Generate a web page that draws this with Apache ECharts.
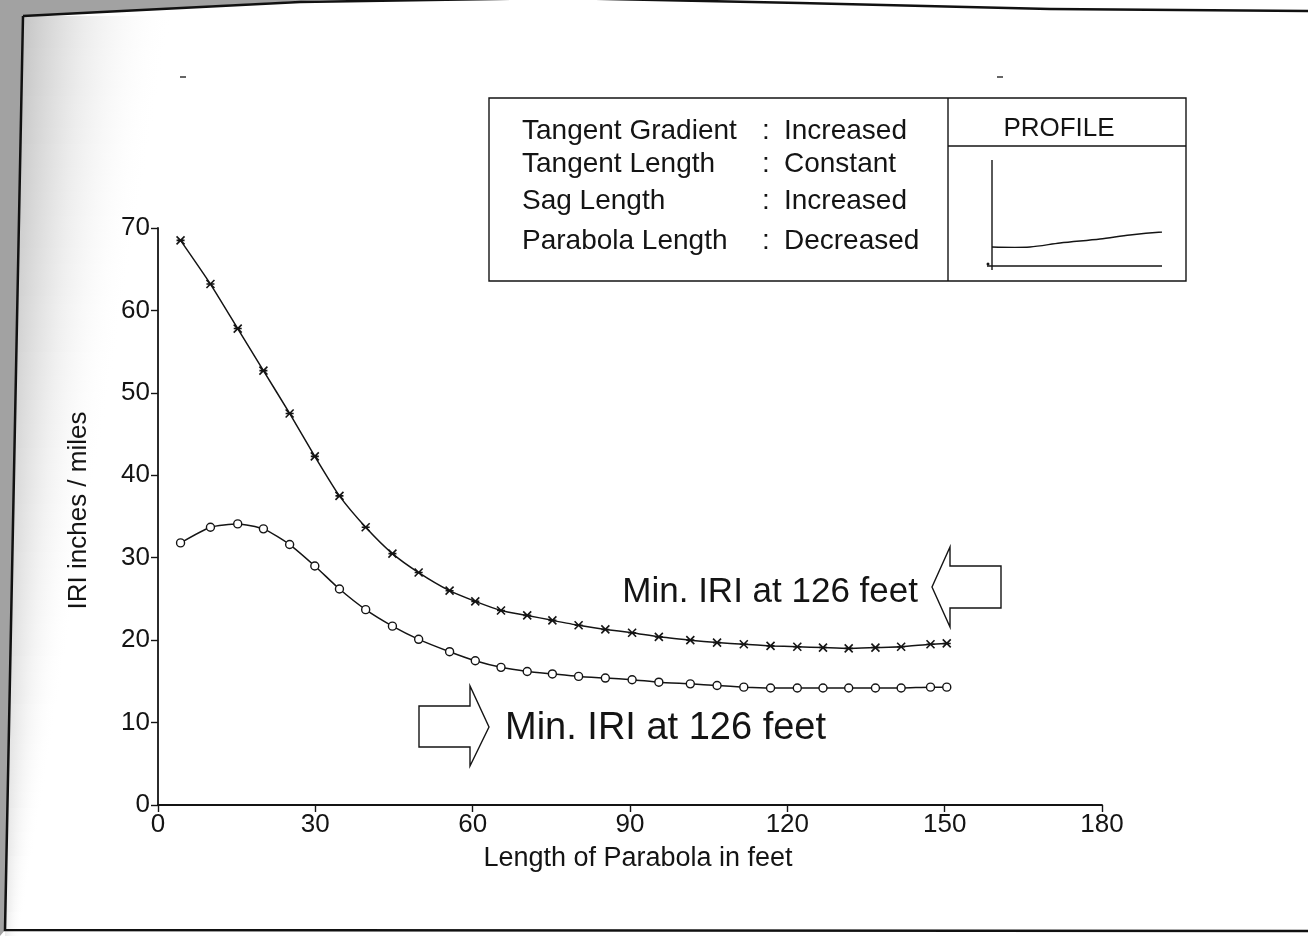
<!DOCTYPE html>
<html>
<head>
<meta charset="utf-8">
<title>IRI vs Length of Parabola</title>
<script src="https://cdn.jsdelivr.net/npm/echarts@6/dist/echarts.min.js"></script>
<style>
  html, body { margin: 0; padding: 0; background: #fff; }
  #chart { width: 1308px; height: 936px; }
</style>
</head>
<body>
<div id="chart"></div>
<script>
// Length of parabola (feet) for each computed point
const lengthFeet = [4.3, 10.0, 15.2, 20.1, 25.1, 29.9, 34.6, 39.6, 44.7, 49.7,
                    55.6, 60.5, 65.4, 70.4, 75.2, 80.2, 85.3, 90.4, 95.5, 101.5,
                    106.6, 111.7, 116.8, 121.9, 126.8, 131.7, 136.8, 141.7, 147.3, 150.4];

// IRI (inches / mile), upper curve (x markers)
const iriUpper = [68.5, 63.2, 57.8, 52.7, 47.5, 42.3, 37.5, 33.7, 30.5, 28.2,
                  26.0, 24.7, 23.6, 23.0, 22.4, 21.8, 21.3, 20.9, 20.4, 20.0,
                  19.7, 19.5, 19.3, 19.2, 19.1, 19.0, 19.1, 19.2, 19.5, 19.6];

// IRI (inches / mile), lower curve (open circles)
const iriLower = [31.8, 33.7, 34.1, 33.5, 31.6, 29.0, 26.2, 23.7, 21.7, 20.1,
                  18.6, 17.5, 16.7, 16.2, 15.9, 15.6, 15.4, 15.2, 14.9, 14.7,
                  14.5, 14.3, 14.2, 14.2, 14.2, 14.2, 14.2, 14.2, 14.3, 14.3];

const xTicks = { min: 0, max: 180, step: 30 };
const yTicks = { min: 0, max: 70, step: 10 };

const legendKeys = ['Tangent Gradient', 'Tangent Length', 'Sag Length', 'Parabola Length'];
const legendVals = ['Increased', 'Constant', 'Increased', 'Decreased'];
const profileTitle = 'PROFILE';
const minNote = 'Min. IRI at 126 feet';

const FONT = '"Liberation Sans", Arial, Helvetica, sans-serif';
const INK = '#141414';

const chart = echarts.init(document.getElementById('chart'), null, { renderer: 'canvas' });

const pairs = vals => lengthFeet.map((x, i) => [x, vals[i]]);

// legend table text rows
const rowY = [131, 164, 201, 241];
const legendText = [];
legendKeys.forEach((k, i) => {
  const base = { font: '28px ' + FONT, fill: INK, textVerticalAlign: 'middle' };
  legendText.push({ type: 'text', silent: true, x: 522, y: rowY[i],
    style: Object.assign({ text: k }, base) });
  legendText.push({ type: 'text', silent: true, x: 762, y: rowY[i],
    style: Object.assign({ text: ':' }, base) });
  legendText.push({ type: 'text', silent: true, x: 784, y: rowY[i],
    style: Object.assign({ text: legendVals[i] }, base) });
});

// soft grey shading along the left page edge, built from thin fading bands
const edgeShade = [];
const bandH = 8;
for (let y = 16; y < 930; y += bandH) {
  const t = (y - 16) / 914;
  const x0 = Math.round(23 - 18 * t);
  const w = Math.round(150 - 135 * t);
  const a = 0.55 - 0.35 * t;
  edgeShade.push({ type: 'rect', z: -9, silent: true,
    shape: { x: x0, y: y, width: w, height: bandH },
    style: { fill: new echarts.graphic.LinearGradient(0, 0, 1, 0, [
      { offset: 0, color: 'rgba(150,150,150,' + a.toFixed(3) + ')' },
      { offset: 0.4, color: 'rgba(175,175,175,' + (a * 0.45).toFixed(3) + ')' },
      { offset: 1, color: 'rgba(255,255,255,0)' }
    ]) } });
}

const outline = { stroke: INK, lineWidth: 1.4, fill: null };

const option = {
  backgroundColor: '#ffffff',
  animation: false,
  grid: { left: 158, right: 206, top: 228, bottom: 131, containLabel: false },
  xAxis: {
    type: 'value',
    min: xTicks.min, max: xTicks.max, interval: xTicks.step,
    name: 'Length of Parabola in feet',
    nameLocation: 'middle',
    nameGap: 40,
    nameTextStyle: { fontFamily: FONT, fontSize: 27, color: INK, padding: [0, 0, 0, 16] },
    axisLine: { lineStyle: { color: INK, width: 1.8 } },
    axisTick: { show: true, inside: false, length: 7, lineStyle: { color: INK, width: 1.4 } },
    axisLabel: { fontFamily: FONT, fontSize: 26, color: INK, margin: 7 },
    splitLine: { show: false }
  },
  yAxis: {
    type: 'value',
    min: yTicks.min, max: yTicks.max, interval: yTicks.step,
    name: 'IRI inches / miles',
    nameLocation: 'middle',
    nameGap: 66,
    nameRotate: 90,
    nameTextStyle: { fontFamily: FONT, fontSize: 26, color: INK, padding: [0, 0, 0, 12] },
    axisLine: { show: true, lineStyle: { color: INK, width: 1.8 } },
    axisTick: { show: true, inside: false, length: 7, lineStyle: { color: INK, width: 1.4 } },
    axisLabel: { fontFamily: FONT, fontSize: 26, color: INK, margin: 8 },
    splitLine: { show: false }
  },
  series: [
    {
      name: 'upper',
      type: 'line',
      data: pairs(iriUpper),
      smooth: 0.2,
      symbol: 'path://M0,0L10,10M10,0L0,10M0,5L10,5',
      symbolSize: 8,
      lineStyle: { color: INK, width: 1.5 },
      itemStyle: { color: INK, borderColor: INK, borderWidth: 1.6 },
      z: 3
    },
    {
      name: 'lower',
      type: 'line',
      data: pairs(iriLower),
      smooth: 0.2,
      symbol: 'circle',
      symbolSize: 8,
      lineStyle: { color: INK, width: 1.5 },
      itemStyle: { color: '#ffffff', borderColor: INK, borderWidth: 1.4 },
      z: 3
    }
  ],
  graphic: [
    // scanned page edge
    { type: 'polygon', z: -10, silent: true,
      shape: { points: [[0, 0], [320, 0], [23, 16], [5, 930], [0, 936]] },
      style: { fill: '#a2a2a2' } },
    ...edgeShade,
    { type: 'polyline', silent: true,
      shape: { points: [[23, 16], [300, 2], [560, -2], [800, 3], [1050, 9], [1308, 11]] },
      style: { stroke: '#111', lineWidth: 2.5, fill: null } },
    { type: 'polyline', silent: true,
      shape: { points: [[23, 16], [5, 930], [1308, 931]] },
      style: { stroke: '#111', lineWidth: 2.5, fill: null } },
    { type: 'line', silent: true, shape: { x1: 180, y1: 77, x2: 186, y2: 77 },
      style: { stroke: '#333', lineWidth: 1.5 } },
    { type: 'line', silent: true, shape: { x1: 997, y1: 77, x2: 1003, y2: 77 },
      style: { stroke: '#333', lineWidth: 1.5 } },

    // legend table frame
    { type: 'rect', silent: true, shape: { x: 489, y: 98, width: 697, height: 183 },
      style: outline },
    { type: 'line', silent: true, shape: { x1: 948, y1: 98, x2: 948, y2: 281 },
      style: outline },
    { type: 'line', silent: true, shape: { x1: 948, y1: 146, x2: 1186, y2: 146 },
      style: outline },
    { type: 'text', silent: true, x: 1059, y: 129,
      style: { text: profileTitle, font: '26px ' + FONT, fill: INK,
               textAlign: 'center', textVerticalAlign: 'middle' } },
    ...legendText,

    // profile sketch
    { type: 'line', silent: true, shape: { x1: 992, y1: 160, x2: 992, y2: 270 },
      style: outline },
    { type: 'polyline', silent: true,
      shape: { points: [[992, 247], [1030, 247], [1060, 243], [1100, 239], [1130, 235], [1162, 232]], smooth: 0.3 },
      style: outline },
    { type: 'line', silent: true, shape: { x1: 987, y1: 266, x2: 1162, y2: 266 },
      style: outline },
    { type: 'circle', silent: true, shape: { cx: 988, cy: 264, r: 1.5 },
      style: { fill: INK } },

    // note for upper curve, arrow pointing left
    { type: 'polygon', silent: true,
      shape: { points: [[1001, 566], [950, 566], [950, 547], [932, 587], [950, 627], [950, 608], [1001, 608]] },
      style: { fill: '#fff', stroke: INK, lineWidth: 1.4 } },
    { type: 'text', silent: true, x: 918, y: 592,
      style: { text: minNote, font: '35px ' + FONT, fill: INK,
               textAlign: 'right', textVerticalAlign: 'middle' } },

    // note for lower curve, arrow pointing right
    { type: 'polygon', silent: true,
      shape: { points: [[419, 706], [470, 706], [470, 686], [489, 727], [470, 766], [470, 747], [419, 747]] },
      style: { fill: '#fff', stroke: INK, lineWidth: 1.4 } },
    { type: 'text', silent: true, x: 505, y: 729,
      style: { text: minNote, font: '38px ' + FONT, fill: INK,
               textAlign: 'left', textVerticalAlign: 'middle' } }
  ]
};

chart.setOption(option);
</script>
</body>
</html>
